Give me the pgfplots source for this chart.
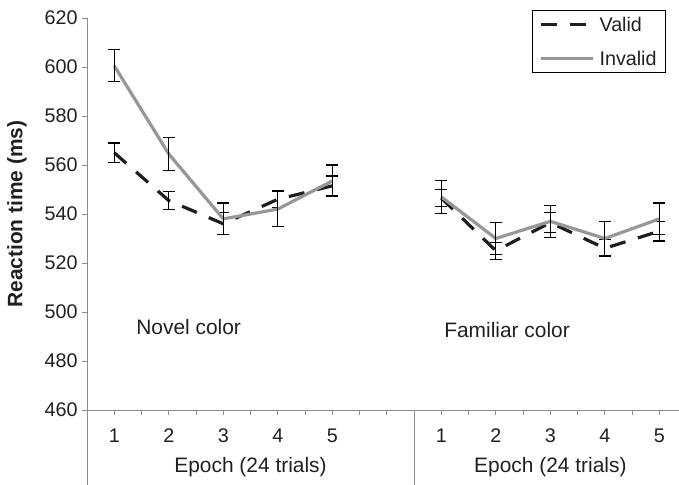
\documentclass[border=0pt]{standalone}
\usepackage{fontspec}
\setmainfont{Liberation Sans}
\usepackage{pgfplots}
\pgfplotsset{compat=1.18}
\definecolor{axgray}{HTML}{8C8C8C}
\definecolor{invgray}{HTML}{979797}
\definecolor{txt}{HTML}{231F20}
\definecolor{valblk}{HTML}{1E1E1E}
\newcommand{\fs}{\fontsize{21}{25}\selectfont}
\newcommand{\fst}{\fontsize{19.8}{23}\selectfont}
\begin{document}
\begin{tikzpicture}
\begin{axis}[
  name=ax, scale only axis, width=592bp, height=392bp,
  xmin=0.5, xmax=11.36, ymin=460, ymax=620,
  axis x line=bottom, axis y line=left,
  axis line style={draw=axgray, line width=0.9bp, -},
  ytick={460,480,...,620},
  xtick={1,2,3,4,5,7,8,9,10,11},
  xticklabels={1,2,3,4,5,1,2,3,4,5},
  minor xtick={1.5,2.5,3.5,4.5,5.5,6,7.5,8.5,9.5,10.5},
  tick align=outside, major tick length=5bp, minor tick length=5bp,
  tick style={draw=axgray, line width=0.9bp},
  /pgf/number format/assume math mode=true,
  /pgf/number format/1000 sep={},
  tick label style={font=\fst, text=txt},
  xticklabel style={yshift=-10bp},
  yticklabel style={xshift=-1bp},
  clip=false,
  legend style={at={(0.978,1.0204)}, anchor=north east, draw=black, line width=0.8bp, font=\fst, text=txt,
    inner xsep=7bp, inner ysep=5bp, row sep=16bp, column sep=3bp,
    nodes={inner sep=2bp, text height=14bp, text depth=0bp}},
  legend cell align=left,
  legend image code/.code={\draw[#1] (0bp,0bp) -- (52bp,0bp);},
  error bars/y dir=both, error bars/y explicit,
  error bars/error bar style={solid, line width=1.2bp, black},
  error bars/error mark options={solid, rotate=90, mark size=6bp, line width=1.2bp, black},
]
% Novel color
\addplot[valblk, line width=3.2bp, dash pattern=on 16bp off 13bp, mark=none]
  coordinates {(1,565) +- (0,4) (2,545.5) +- (0,3.7) (3,536) +- (0,4.5) (4,546) +- (0,3.5) (5,551.5) +- (0,4)};
\addlegendentry{Valid}
\addplot[invgray, line width=3.2bp, mark=none]
  coordinates {(1,600.5) +- (0,6.5) (2,564.5) +- (0,6.8) (3,538) +- (0,6.5) (4,542) +- (0,7.2) (5,553.5) +- (0,6.5)};
\addlegendentry{Invalid}
% Familiar color
\addplot[valblk, line width=3.2bp, dash pattern=on 16bp off 13bp, mark=none, forget plot]
  coordinates {(7,546.5) +- (0,3.5) (8,525) +- (0,3.5) (9,536.5) +- (0,4) (10,526) +- (0,3.5) (11,533) +- (0,4)};
\addplot[invgray, line width=3.2bp, mark=none, forget plot]
  coordinates {(7,547) +- (0,6.7) (8,530) +- (0,6.5) (9,537) +- (0,6.5) (10,530) +- (0,7) (11,538) +- (0,6.5)};
\node[anchor=west, font=\fs, text=txt] at (axis cs:1.34,494) {Novel color};
\node[anchor=west, font=\fs, text=txt] at (axis cs:6.99,492.7) {Familiar color};
\node[font=\fs, text=txt] at ([yshift=-57bp]axis cs:3.5,460) {Epoch (24 trials)};
\node[font=\fs, text=txt] at ([yshift=-57bp]axis cs:9,460) {Epoch (24 trials)};
\coordinate (sep) at (axis cs:6.5,460);
\end{axis}
\node[rotate=90, font=\fs\bfseries, text=txt] at ([xshift=-70bp]ax.west) {Reaction time (ms)};
\draw[axgray, line width=0.9bp] (ax.south west) -- ++(0,-75bp);
\draw[axgray, line width=0.9bp] (sep) -- ++(0,-75bp);
\pgfresetboundingbox
\path ([xshift=-87bp,yshift=-75bp]ax.south west) rectangle ([yshift=18bp]ax.north east);
\end{tikzpicture}
\end{document}
